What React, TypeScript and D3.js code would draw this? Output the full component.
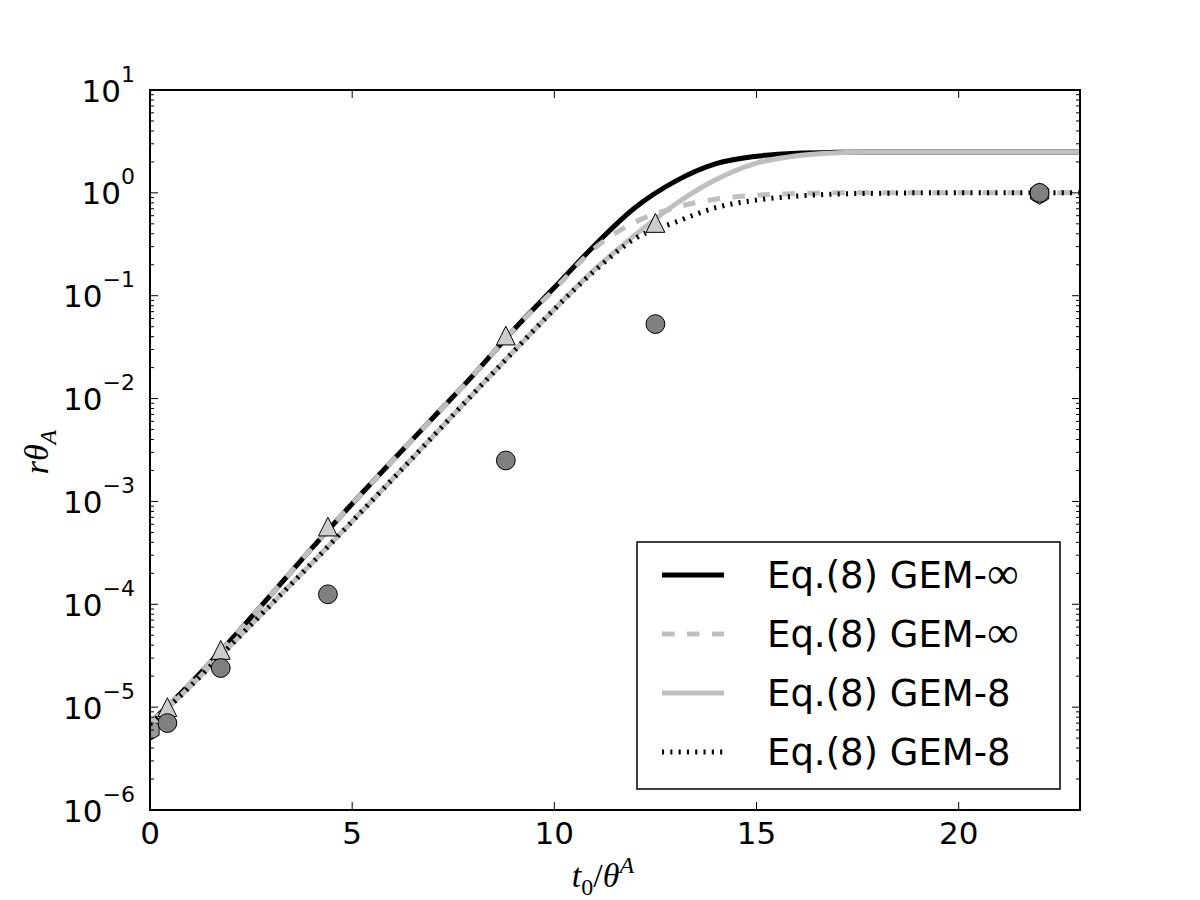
import * as d3 from "d3";
import { useEffect, useRef } from "react";

// sample grid for the model curves (t0 / theta^A)
const tGrid = [0, 1, 2, 3, 4, 5, 6, 7, 8, 9, 10, 11, 12, 13, 14, 15, 16, 17, 18, 19, 20, 21, 22, 23];

// Eq.(8) GEM-inf (black solid)
const gemInfSolid = [
  7.0e-6, 1.7e-5, 4.5e-5, 1.25e-4, 3.5e-4, 9.5e-4, 2.5e-3, 6.5e-3, 0.017, 0.047,
  0.12, 0.31, 0.72, 1.3, 1.92, 2.27, 2.43, 2.48, 2.5, 2.5, 2.5, 2.5, 2.5, 2.5,
];
// Eq.(8) GEM-inf (grey dashed)
const gemInfDashed = [
  7.0e-6, 1.7e-5, 4.5e-5, 1.25e-4, 3.5e-4, 9.5e-4, 2.5e-3, 6.5e-3, 0.017, 0.047,
  0.115, 0.29, 0.52, 0.72, 0.87, 0.95, 0.985, 1.0, 1.0, 1.0, 1.0, 1.0, 1.0, 1.0,
];
// Eq.(8) GEM-8 (grey solid)
const gem8Solid = [
  6.8e-6, 1.6e-5, 4.0e-5, 1.0e-4, 2.5e-4, 6.4e-4, 1.65e-3, 4.3e-3, 0.0112, 0.029,
  0.074, 0.18, 0.39, 0.78, 1.35, 1.95, 2.3, 2.45, 2.5, 2.5, 2.5, 2.5, 2.5, 2.5,
];
// Eq.(8) GEM-8 (black dotted)
const gem8Dotted = [
  6.8e-6, 1.6e-5, 4.0e-5, 1.0e-4, 2.5e-4, 6.4e-4, 1.65e-3, 4.3e-3, 0.0112, 0.029,
  0.074, 0.175, 0.36, 0.52, 0.72, 0.85, 0.93, 0.975, 0.99, 1.0, 1.0, 1.0, 1.0, 1.0,
];

// simulation points
const circleT = [0.43, 1.75, 4.4, 8.8, 12.5, 22];
const circleV = [7.0e-6, 2.4e-5, 1.25e-4, 2.5e-3, 0.053, 1.0];
const triT = [0.43, 1.75, 4.4, 8.8, 12.5];
const triV = [1.0e-5, 3.6e-5, 5.7e-4, 0.041, 0.51];
const hexT = [0, 22];
const hexV = [6.0e-6, 0.98];

const xTicks = [0, 5, 10, 15, 20];
const yExponents = [-6, -5, -4, -3, -2, -1, 0, 1];
const legendLabels = ["Eq.(8) GEM-", "Eq.(8) GEM-", "Eq.(8) GEM-8", "Eq.(8) GEM-8"];
const legendInf = [true, true, false, false];

export default function App() {
  const svgRef = useRef<SVGSVGElement>(null);

  useEffect(() => {
    if (!svgRef.current) return;
    const svg = d3.select<SVGSVGElement, unknown>(svgRef.current);
    svg.selectAll("*").remove();

    const width = 1200;
    const height = 900;
    const m = { left: 150, right: 1080, top: 90, bottom: 810 };

    svg.attr("width", width).attr("height", height);
    svg.append("rect").attr("width", width).attr("height", height).attr("fill", "#ffffff");

    const x = d3.scaleLinear().domain([0, 23]).range([m.left, m.right]);
    const y = d3.scaleLog().domain([1e-6, 10]).range([m.bottom, m.top]);

    svg
      .append("clipPath")
      .attr("id", "plotclip")
      .append("rect")
      .attr("x", m.left)
      .attr("y", m.top)
      .attr("width", m.right - m.left)
      .attr("height", m.bottom - m.top);

    const plot = svg.append("g").attr("clip-path", "url(#plotclip)");

    const hexPath = (r: number) => {
      const pts = d3.range(6).map((k) => {
        const a = -Math.PI / 2 + (k * Math.PI) / 3;
        return [r * Math.cos(a), r * Math.sin(a)];
      });
      return "M" + pts.map((p) => p.join(",")).join("L") + "Z";
    };

    // hexagons (under the lines)
    plot
      .selectAll("path.hex")
      .data(hexT)
      .enter()
      .append("path")
      .attr("class", "hex")
      .attr("d", hexPath(10.5))
      .attr("transform", (d, i) => `translate(${x(d)},${y(hexV[i])})`)
      .attr("fill", "#999999")
      .attr("stroke", "#000")
      .attr("stroke-width", 1);

    const line = d3
      .line<number>()
      .x((_d, i) => x(tGrid[i]))
      .y((d) => y(d))
      .curve(d3.curveMonotoneX);

    const lw = 5;
    const styles = [
      { data: gemInfSolid, color: "#000000", dash: null as string | null },
      { data: gemInfDashed, color: "#bfbfbf", dash: "12.5,12.5" },
      { data: gem8Solid, color: "#bfbfbf", dash: null },
      { data: gem8Dotted, color: "#000000", dash: "2.1,6.2" },
    ];

    styles.forEach((s) => {
      const p = plot
        .append("path")
        .attr("d", line(s.data))
        .attr("fill", "none")
        .attr("stroke", s.color)
        .attr("stroke-width", lw);
      if (s.dash) p.attr("stroke-dasharray", s.dash);
    });

    // triangles
    const tr = 9.4;
    plot
      .selectAll("path.tri")
      .data(triT)
      .enter()
      .append("path")
      .attr("class", "tri")
      .attr("d", `M0,${-tr}L${-tr},${tr}L${tr},${tr}Z`)
      .attr("transform", (d, i) => `translate(${x(d)},${y(triV[i])})`)
      .attr("fill", "#cccccc")
      .attr("stroke", "#000")
      .attr("stroke-width", 1);

    // circles
    plot
      .selectAll("circle.pt")
      .data(circleT)
      .enter()
      .append("circle")
      .attr("class", "pt")
      .attr("cx", (d) => x(d))
      .attr("cy", (_d, i) => y(circleV[i]))
      .attr("r", 9.4)
      .attr("fill", "#808080")
      .attr("stroke", "#000")
      .attr("stroke-width", 1);

    // ticks
    const axes = svg.append("g").attr("stroke", "#000").attr("stroke-width", 1);
    xTicks.forEach((t) => {
      axes.append("line").attr("x1", x(t)).attr("x2", x(t)).attr("y1", m.bottom).attr("y2", m.bottom - 8);
      axes.append("line").attr("x1", x(t)).attr("x2", x(t)).attr("y1", m.top).attr("y2", m.top + 8);
    });
    const yAll = y.ticks();
    yAll.forEach((v) => {
      const major = Math.abs(Math.log10(v) - Math.round(Math.log10(v))) < 1e-9;
      const len = major ? 8 : 4;
      axes.append("line").attr("x1", m.left).attr("x2", m.left + len).attr("y1", y(v)).attr("y2", y(v));
      axes.append("line").attr("x1", m.right).attr("x2", m.right - len).attr("y1", y(v)).attr("y2", y(v));
    });

    // frame
    svg
      .append("rect")
      .attr("x", m.left)
      .attr("y", m.top)
      .attr("width", m.right - m.left)
      .attr("height", m.bottom - m.top)
      .attr("fill", "none")
      .attr("stroke", "#000")
      .attr("stroke-width", 2);

    const font = "'DejaVu Sans', sans-serif";

    // x tick labels
    svg
      .selectAll("text.xt")
      .data(xTicks)
      .enter()
      .append("text")
      .attr("class", "xt")
      .attr("x", (d) => x(d))
      .attr("y", 844)
      .attr("text-anchor", "middle")
      .attr("font-family", font)
      .attr("font-size", 31)
      .attr("fill", "#000")
      .text((d) => String(d));

    // y tick labels 10^k
    yExponents.forEach((e) => {
      const t = svg
        .append("text")
        .attr("x", 135)
        .attr("y", y(Math.pow(10, e)) + 11.5)
        .attr("text-anchor", "end")
        .attr("font-family", font)
        .attr("font-size", 31)
        .attr("fill", "#000");
      t.append("tspan").text("10");
      t.append("tspan")
        .attr("font-size", 22)
        .attr("dy", -20)
        .text(e < 0 ? "\u2212" + Math.abs(e) : String(e));
    });

    // axis titles
    const serif = "'Liberation Serif', 'DejaVu Serif', serif";
    const xl = svg
      .append("text")
      .attr("x", 603)
      .attr("y", 887)
      .attr("text-anchor", "middle")
      .attr("font-family", serif)
      .attr("font-size", 34)
      .attr("fill", "#000");
    xl.append("tspan").attr("font-style", "italic").text("t");
    xl.append("tspan").attr("font-size", 24).attr("dy", 8).text("0");
    xl.append("tspan").attr("dy", -8).text("/");
    xl.append("tspan").attr("font-style", "italic").text("\u03B8");
    xl.append("tspan").attr("font-style", "italic").attr("font-size", 24).attr("dy", -14).text("A");

    const yl = svg
      .append("text")
      .attr("transform", "translate(48,452) rotate(-90)")
      .attr("text-anchor", "middle")
      .attr("font-family", serif)
      .attr("font-size", 34)
      .attr("fill", "#000");
    yl.append("tspan").attr("font-style", "italic").text("r\u03B8");
    yl.append("tspan").attr("font-style", "italic").attr("font-size", 24).attr("dy", 8).text("A");

    // legend
    const lg = svg.append("g");
    lg.append("rect")
      .attr("x", 637)
      .attr("y", 542)
      .attr("width", 423)
      .attr("height", 247)
      .attr("fill", "#fff")
      .attr("stroke", "#000")
      .attr("stroke-width", 1.5);
    styles.forEach((s, i) => {
      const ly = 575 + i * 59;
      const l = lg
        .append("line")
        .attr("x1", 662)
        .attr("x2", 724)
        .attr("y1", ly)
        .attr("y2", ly)
        .attr("stroke", s.color)
        .attr("stroke-width", lw);
      if (s.dash) l.attr("stroke-dasharray", s.dash);
      const txt = lg
        .append("text")
        .attr("x", 767)
        .attr("y", ly + 13)
        .attr("font-family", font)
        .attr("font-size", 37)
        .attr("fill", "#000");
      txt.append("tspan").text(legendLabels[i]);
      if (legendInf[i]) {
        txt.append("tspan").attr("font-family", serif).attr("font-size", 44).text("\u221E");
      }
    });
  }, []);

  return <svg ref={svgRef} style={{ position: "absolute", left: 0, top: 0, display: "block" }}></svg>;
}
